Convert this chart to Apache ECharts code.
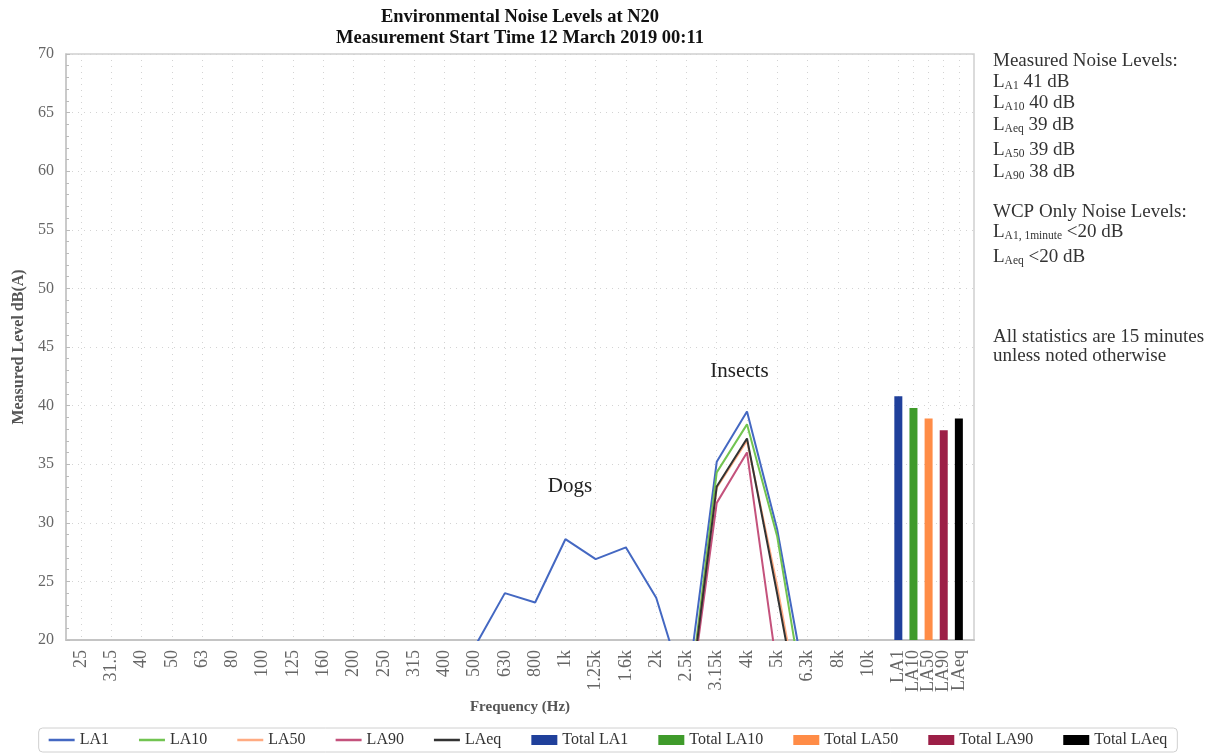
<!DOCTYPE html>
<html>
<head>
<meta charset="utf-8">
<script src="https://cdn.jsdelivr.net/npm/echarts@6/dist/echarts.min.js"></script>
<style>
  html, body { margin: 0; padding: 0; background: #fff; }
  #chart { width: 1216px; height: 754px; }
</style>
</head>
<body>
<div id="chart"></div>
<script>
// ---------------------------------------------------------------------------
// Data (values under 20 dB are off the chart)
// ---------------------------------------------------------------------------
const freqLabels = ["25", "31.5", "40", "50", "63", "80", "100", "125", "160", "200",
  "250", "315", "400", "500", "630", "800", "1k", "1.25k", "1.6k", "2k",
  "2.5k", "3.15k", "4k", "5k", "6.3k", "8k", "10k"];
const totalLabels = ["LA1", "LA10", "LA50", "LA90", "LAeq"];

const la1 = [null, null, null, null, null, null, null, null, null, null,
  null, null, null, 19.4, 24.0, 23.2, 28.6, 26.9, 27.9, 23.6,
  15.2, 35.2, 39.5, 29.4, 15.2, null, null];
const la10 = [null, null, null, null, null, null, null, null, null, null,
  null, null, null, null, null, null, null, null, null, null,
  13.0, 34.3, 38.4, 28.8, 13.1, null, null];
const la50 = [null, null, null, null, null, null, null, null, null, null,
  null, null, null, null, null, null, null, null, null, null,
  12.7, 33.0, 37.0, 24.6, 10.5, null, null];
const la90 = [null, null, null, null, null, null, null, null, null, null,
  null, null, null, null, null, null, null, null, null, null,
  12.5, 31.7, 36.0, 17.4, null, null, null];
const laeq = [null, null, null, null, null, null, null, null, null, null,
  null, null, null, null, null, null, null, null, null, null,
  12.7, 33.1, 37.2, 23.9, 10.0, null, null];

const totalValues = [40.8, 39.8, 38.9, 37.9, 38.9];

const annotations = [
  { name: "Dogs", x: 16.15, y: 33.1 },
  { name: "Insects", x: 21.75, y: 42.9 }
];

// ---------------------------------------------------------------------------
const FONT = "Liberation Serif";
const lineColors = ["#4468c2", "#72c451", "#ffab82", "#c4527c", "#333333"];
const barColors = ["#20409b", "#3f9b2b", "#ff8c47", "#9c1f47", "#000000"];
const lineNames = ["LA1", "LA10", "LA50", "LA90", "LAeq"];
const lineData = [la1, la10, la50, la90, laeq];

// legend swatch for the lines: a thin bar, tiny dots keep the 26x10 box
const LINE_ICON = "path://M0,0h0.01v0.01h-0.01z M0,3.8h26v2.4h-26z M0,10h0.01v0.01h-0.01z";

// x: frequency band i sits at i, totals at 27, 27.5, ... 29
const X_MIN = -0.5;
const X_MAX = 29.5;
const totalPos = (k) => freqLabels.length + 0.5 * k;

// slots every half unit for the visible category axis (labels + grid)
const slotLabels = [];
for (let k = 0; k <= (X_MAX - X_MIN) * 2; k++) {
  const v = X_MIN + 0.5 * k;
  let lab = "";
  if (Number.isInteger(v) && v < freqLabels.length) lab = freqLabels[v];
  else if (v >= freqLabels.length && v <= totalPos(4)) lab = totalLabels[(v - freqLabels.length) * 2];
  slotLabels.push(lab);
}

const chart = echarts.init(document.getElementById("chart"));

const lineSeries = lineNames.map((name, i) => ({
  name,
  type: "line",
  xAxisIndex: 0,
  data: lineData[i].map((v, j) => [j, v]),
  symbol: "none",
  lineStyle: { color: lineColors[i], width: 2 },
  itemStyle: { color: lineColors[i] },
  clip: true,
  z: 3 + i,
  markPoint: i === 0 ? {
    symbol: "rect",
    symbolSize: 1,
    itemStyle: { color: "transparent" },
    label: {
      show: true, position: "inside", formatter: (p) => p.name,
      color: "#222", fontSize: 21, fontFamily: FONT
    },
    data: annotations.map((a) => ({ name: a.name, coord: [a.x, a.y] }))
  } : undefined
}));

const barSeries = totalLabels.map((lab, k) => ({
  name: "Total " + lab,
  type: "bar",
  xAxisIndex: 0,
  data: [[totalPos(k), totalValues[k]]],
  barWidth: 8,
  barGap: "-100%",
  itemStyle: { color: barColors[k] },
  clip: true
}));

function sideText(parts, y) {
  // parts alternate: normal, subscript, normal
  let txt = "";
  parts.forEach((p, i) => { if (p) txt += (i % 2 === 1 ? "{s|" : "{b|") + p + "}"; });
  return {
    type: "text", x: 993, y,
    style: {
      text: txt, fill: "#333", verticalAlign: "middle",
      rich: {
        b: { fontFamily: FONT, fontSize: 19, color: "#333", verticalAlign: "bottom" },
        s: { fontFamily: FONT, fontSize: 11.5, color: "#333", verticalAlign: "bottom" }
      }
    }
  };
}

chart.setOption({
  animation: false,
  backgroundColor: "#fff",
  textStyle: { fontFamily: FONT },
  title: {
    text: "Environmental Noise Levels at N20\nMeasurement Start Time 12 March 2019 00:11",
    left: 520, top: 7, textAlign: "center",
    padding: 0,
    textStyle: { fontFamily: FONT, fontSize: 18.5, fontWeight: "bold", color: "#111", lineHeight: 21 }
  },
  grid: {
    left: 66, right: 242, top: 54, bottom: 114,
    containLabel: false, outerBoundsMode: "none",
    show: true, borderColor: "#cfcfcf", borderWidth: 1.5
  },
  legend: {
    bottom: 2, left: "center",
    itemGap: 30, itemWidth: 26, itemHeight: 10,
    padding: [4, 10],
    borderColor: "#d0d0d0", borderWidth: 1, borderRadius: 4,
    textStyle: { fontFamily: FONT, fontSize: 16, color: "#333" },
    data: lineNames.map((n) => ({ name: n, icon: LINE_ICON }))
      .concat(totalLabels.map((l) => ({ name: "Total " + l, icon: "rect" })))
  },
  xAxis: [
    { type: "value", min: X_MIN, max: X_MAX, show: false },
    {
      type: "category", position: "bottom", boundaryGap: false,
      data: slotLabels,
      name: "Frequency (Hz)", nameLocation: "middle", nameGap: 60,
      nameTextStyle: { fontFamily: FONT, fontSize: 15, fontWeight: "bold", color: "#555" },
      axisLine: { onZero: false, lineStyle: { color: "#c4c4c4", width: 2 } },
      axisTick: { show: false },
      axisLabel: { interval: 0, rotate: 90, margin: 10, color: "#666", fontSize: 18, fontFamily: FONT },
      splitLine: {
        show: true,
        interval: (idx, val) => val !== "",
        lineStyle: { color: "#d3d3d3", type: [1, 5], width: 1 }
      }
    }
  ],
  yAxis: {
    type: "value", min: 20, max: 70, interval: 5,
    name: "Measured Level dB(A)", nameLocation: "middle", nameGap: 38,
    nameTextStyle: { fontFamily: FONT, fontSize: 16, fontWeight: "bold", color: "#555" },
    axisLine: { show: true, onZero: false, lineStyle: { color: "#c4c4c4", width: 1.5 } },
    axisTick: { show: true, inside: true, length: 4, lineStyle: { color: "#bbb" } },
    minorTick: { show: true, splitNumber: 5, length: 3, lineStyle: { color: "#bbb" } },
    axisLabel: { color: "#666", fontSize: 16, margin: 12, fontFamily: FONT },
    splitLine: { show: true, lineStyle: { color: "#d3d3d3", type: [1, 5], width: 1 } }
  },
  graphic: [
    sideText(["Measured Noise Levels:"], 61),
    sideText(["L", "A1", " 41 dB"], 82),
    sideText(["L", "A10", " 40 dB"], 103),
    sideText(["L", "Aeq", " 39 dB"], 125),
    sideText(["L", "A50", " 39 dB"], 150),
    sideText(["L", "A90", " 38 dB"], 172),
    sideText(["WCP Only Noise Levels:"], 212),
    sideText(["L", "A1, 1minute", " <20 dB"], 232),
    sideText(["L", "Aeq", " <20 dB"], 257),
    sideText(["All statistics are 15 minutes"], 337),
    sideText(["unless noted otherwise"], 356)
  ],
  series: lineSeries.concat(barSeries)
});
</script>
</body>
</html>
